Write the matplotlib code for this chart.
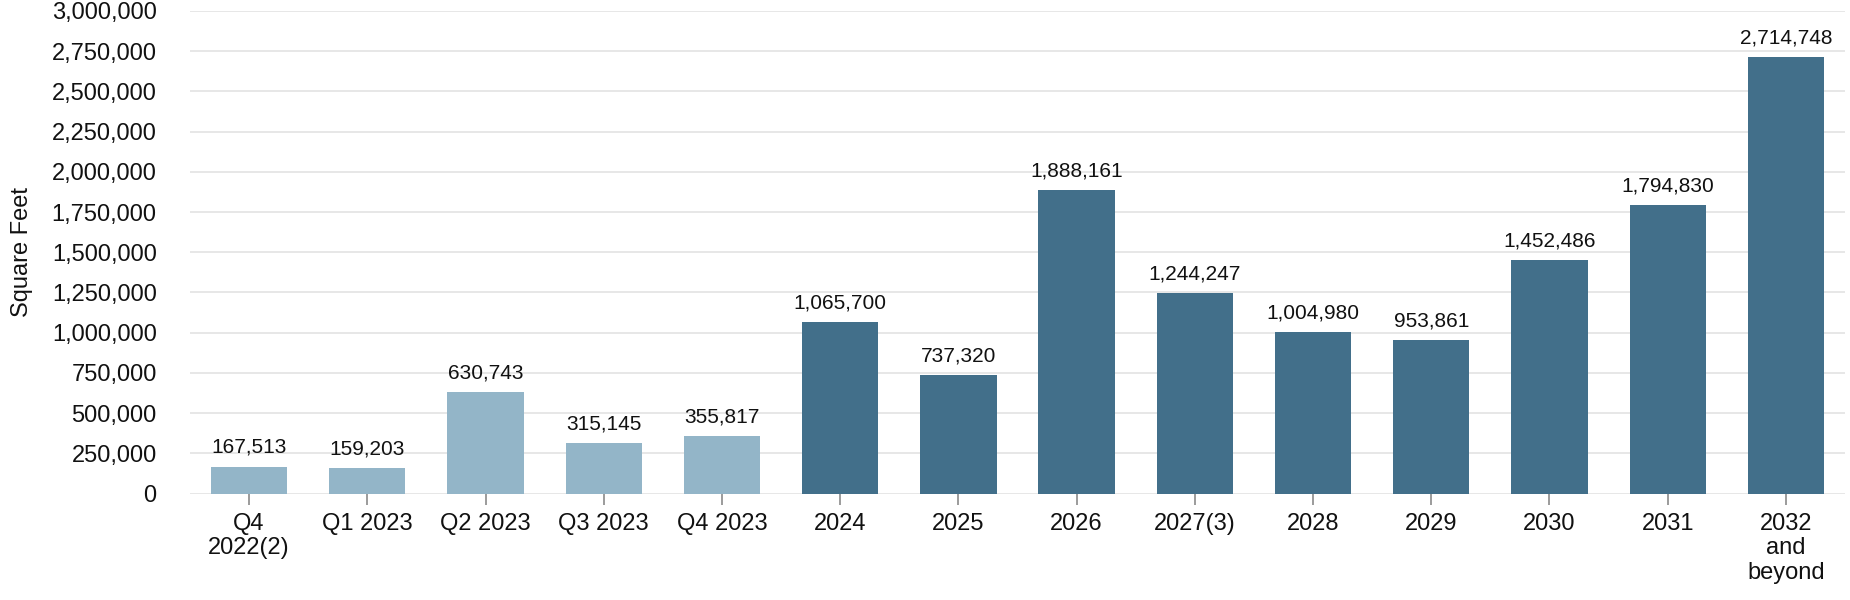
import numpy as np
import matplotlib.pyplot as plt
from matplotlib.ticker import FuncFormatter

plt.rcParams['font.family'] = ['Liberation Sans', 'DejaVu Sans']

categories = ["Q4\n2022(2)", "Q1 2023", "Q2 2023", "Q3 2023", "Q4 2023",
              "2024", "2025", "2026", "2027(3)", "2028", "2029", "2030",
              "2031", "2032\nand\nbeyond"]
values = [167513, 159203, 630743, 315145, 355817,
          1065700, 737320, 1888161, 1244247, 1004980, 953861, 1452486,
          1794830, 2714748]
n_light = 5  # quarterly bars drawn in the lighter shade

light = "#93b5c8"
dark = "#426f8a"
colors = [light if i < n_light else dark for i in range(len(values))]

fig = plt.figure(figsize=(18.5, 6), dpi=100)
ax = fig.add_axes([190 / 1850, 106.5 / 600, (1845 - 190) / 1850, 482.5 / 600])

x = np.arange(len(values))
ax.bar(x, values, width=0.645, color=colors, zorder=3)

for xi, v in zip(x, values):
    ax.annotate(f"{v:,}", (xi, v), xytext=(0, 7), textcoords="offset points",
                ha="center", va="bottom", fontsize=15, color="#111111")

ax.set_xlim(-0.5, len(values) - 0.5)
ax.set_ylim(0, 3000000)
ax.set_yticks(np.arange(0, 3000001, 250000))
ax.yaxis.set_major_formatter(FuncFormatter(lambda v, p: f"{int(v):,}"))
ax.set_xticks(x)
ax.set_xticklabels(categories, fontsize=17, linespacing=1.15)
ax.tick_params(axis="y", length=0, labelsize=17, pad=24, labelcolor="#111111")
ax.tick_params(axis="x", length=8, width=1.2, color="#8a8a8a", pad=6,
               labelcolor="#111111")

ax.grid(axis="y", color="#e3e3e3", linewidth=1.2, zorder=0)
for s in ax.spines.values():
    s.set_visible(False)

ax.set_ylabel("Square Feet", fontsize=17, color="#111111")
ax.yaxis.set_label_coords(-0.0949, 0.5)

fig.savefig("out.png", dpi=100)
